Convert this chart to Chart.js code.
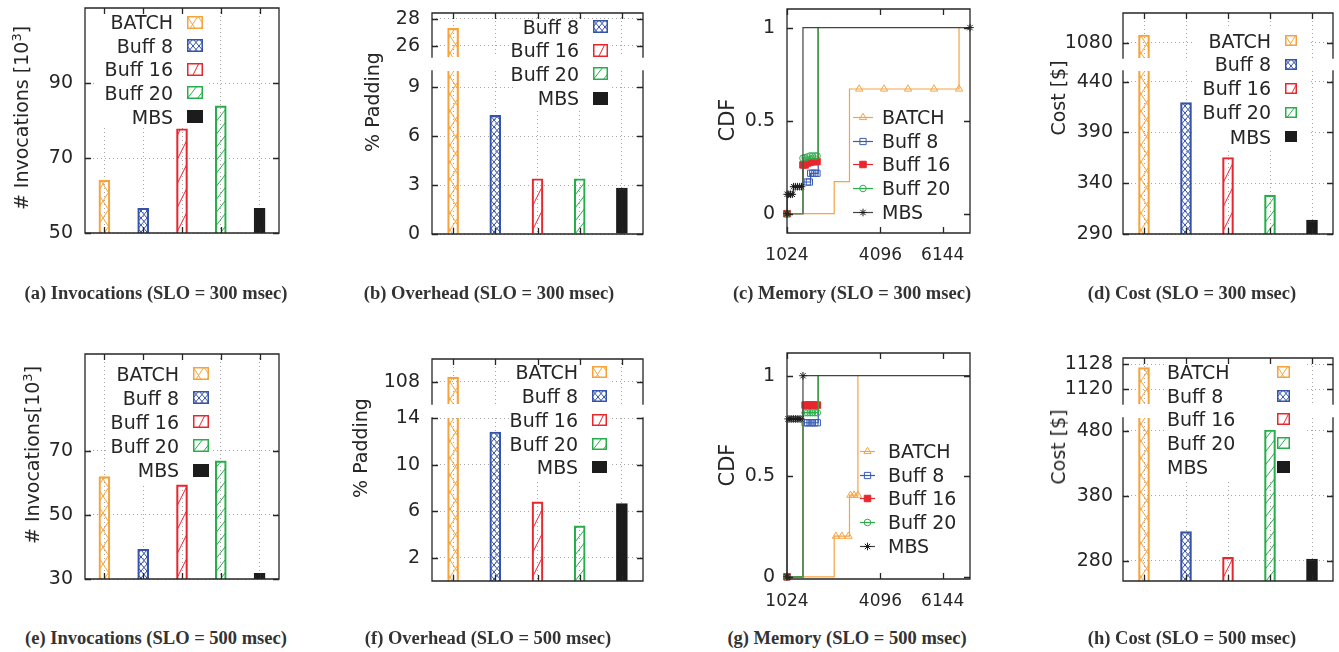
<!DOCTYPE html>
<html>
<head>
<meta charset="utf-8">
<script src="https://cdn.jsdelivr.net/npm/chart.js@4.4.1/dist/chart.umd.min.js"></script>
<style>
    body { margin: 0; background: #fff; }
    #fig { position: relative; width: 1339px; height: 652px; overflow: hidden; font-family: 'DejaVu Sans', sans-serif; color: #262626; }
    #fig canvas { position: absolute; }
    .key { position: absolute; white-space: nowrap; font-size: 19px; line-height: 22px; height: 22px; }
    .ytitle { position: absolute; white-space: nowrap; font-size: 19px; line-height: 22px; transform: translate(-50%, -50%) rotate(-90deg); }
    .ytitle.big { font-size: 21px; }
    .ytitle sup { font-size: 13px; vertical-align: 7px; line-height: 0; }
    .cap { position: absolute; white-space: nowrap; font-family: 'Liberation Serif', serif; font-weight: bold; font-size: 18.5px; color: #333; transform: translate(-50%, -50%); }
</style>
</head>
<body>
<div id="fig"></div>
<script>
var categories = ['BATCH', 'Buff 8', 'Buff 16', 'Buff 20', 'MBS'];

// bar heights
var invocations300 = [64.1, 56.6, 77.8, 83.9, 56.6];
var padding300 = [27.3, 7.28, 3.39, 3.39, 2.82];
var cost300 = [1087.6, 419.4, 365.3, 328.3, 303.8];
var invocations500 = [62.0, 39.3, 59.4, 66.9, 31.8];
var padding500 = [108.4, 12.8, 6.8, 4.74, 6.66];
var cost500 = [1126.9, 324.8, 285.2, 481.5, 282.6];

// tick labels
var invTicks300 = [50, 70, 90];
var padTicks300Top = [26, 28];
var padTicks300 = [0, 3, 6, 9];
var costTicks300Top = [1080];
var costTicks300 = [290, 340, 390, 440];
var invTicks500 = [30, 50, 70];
var padTicks500Top = [108];
var padTicks500 = [2, 6, 10, 14];
var costTicks500Top = [1120, 1128];
var costTicks500 = [280, 380, 480];
var memTicks = [1024, 4096, 6144];
var cdfTicks = [0, 0.5, 1];

// memory CDF (SLO = 300 msec)
var mem300BatchX = [1024, 2576, 3078, 3397, 4217, 5005, 5858, 6679, 6680];
var mem300BatchY = [0, 0.172, 0.67, 0.67, 0.67, 0.67, 0.67, 0.67, 1];
var mem300Buff8X = [1024, 1549, 1690, 1760, 1800, 1870, 1940, 2010, 2051];
var mem300Buff8Y = [0, 0.17, 0.17, 0.17, 0.217, 0.217, 0.217, 0.217, 1];
var mem300Buff16X = [1024, 1549, 1620, 1700, 1780, 1860, 1940, 2010, 2051];
var mem300Buff16Y = [0, 0.262, 0.262, 0.272, 0.276, 0.28, 0.28, 0.28, 1];
var mem300Buff20X = [1024, 1549, 1620, 1700, 1780, 1860, 1940, 2010, 2051];
var mem300Buff20Y = [0, 0.298, 0.3, 0.305, 0.31, 0.31, 0.31, 0.31, 1];
var mem300MbsX = [1024, 1030, 1080, 1140, 1200, 1240, 1300, 1370, 1440, 1500, 1549, 7040];
var mem300MbsY = [0, 0.104, 0.104, 0.104, 0.104, 0.145, 0.145, 0.145, 0.145, 0.145, 1, 1];

// memory CDF (SLO = 500 msec)
var mem500BatchX = [1024, 2576, 2632, 2829, 3046, 3078, 3110, 3230, 3354, 3355];
var mem500BatchY = [0, 0.202, 0.202, 0.202, 0.202, 0.406, 0.406, 0.406, 0.406, 1];
var mem500Buff8X = [1024, 1549, 1620, 1700, 1780, 1860, 1940, 2020, 2052];
var mem500Buff8Y = [0, 0.766, 0.766, 0.766, 0.766, 0.766, 0.766, 0.766, 1];
var mem500Buff16X = [1024, 1549, 1620, 1700, 1780, 1860, 1940, 2020, 2052];
var mem500Buff16Y = [0, 0.854, 0.854, 0.854, 0.854, 0.854, 0.854, 0.854, 1];
var mem500Buff20X = [1024, 1549, 1620, 1700, 1780, 1860, 1940, 2020, 2052];
var mem500Buff20Y = [0, 0.816, 0.816, 0.816, 0.816, 0.816, 0.816, 0.816, 1];
var mem500MbsX = [1024, 1025, 1060, 1120, 1180, 1240, 1300, 1360, 1420, 1480, 1549, 7040];
var mem500MbsY = [0, 0.785, 0.785, 0.785, 0.785, 0.785, 0.785, 0.785, 0.785, 0.785, 1, 1];

Chart.defaults.font.family = "'DejaVu Sans', sans-serif";
Chart.defaults.color = '#262626';

var fig = document.getElementById('fig');
var gridColor = '#a6a6a6';
var barColors = ['#f5a33a', '#3553a8', '#e8262e', '#27ae4a', '#1c1c1c'];
var hatchKinds = ['xbig', 'xfine', 'slash', 'slashDense', 'solid'];
var hatchSizes = { xbig: [11, 17], xfine: [6, 7], slash: [12, 24], slashDense: [10, 13] };
var lineColors = ['#f7a440', '#3a5bb5', '#e8262e', '#2aae4a', '#444444'];
var markColors = ['#f7a440', '#3a5bb5', '#e8262e', '#2aae4a', '#1c1c1c'];
var markStyles = ['triangle', 'rect', 'rect', 'circle', 'star'];
var markRadius = [4.2, 4.4, 4.6, 3.3, 3.8];

function hatch(color, kind) {
    if (kind === 'solid') { return color; }
    var w = hatchSizes[kind][0], h = hatchSizes[kind][1];
    var c = document.createElement('canvas');
    c.width = w; c.height = h;
    var g = c.getContext('2d');
    g.strokeStyle = color;
    g.lineWidth = 1;
    g.beginPath();
    var e = h / w;
    for (var k = -1; k <= 1; k++) {
        g.moveTo(-1, h + k * h + e); g.lineTo(w + 1, k * h - e);
        if (kind === 'xbig' || kind === 'xfine') {
            g.moveTo(-1, k * h - e); g.lineTo(w + 1, h + k * h + e);
        }
    }
    g.stroke();
    return g.createPattern(c, 'repeat');
}

function addCanvas(l, t, w, h) {
    var c = document.createElement('canvas');
    c.width = w; c.height = h;
    c.style.left = l + 'px';
    c.style.top = t + 'px';
    fig.appendChild(c);
    return c;
}

// white key box, drawn over the grid but under the bars
var keyBack = {
    id: 'keyBack',
    beforeDatasetsDraw: function (chart, args, opts) {
        if (!opts.box) { return; }
        var a = chart.chartArea, ctx = chart.ctx;
        ctx.save();
        ctx.beginPath();
        ctx.rect(a.left, a.top, a.right - a.left, a.bottom - a.top);
        ctx.clip();
        ctx.fillStyle = '#fff';
        ctx.fillRect(opts.box[0] - opts.at[0], opts.box[1] - opts.at[1],
            opts.box[2] - opts.box[0], opts.box[3] - opts.box[1]);
        ctx.restore();
    }
};

// gnuplot-like border with inward ticks
var frame = {
    id: 'frame',
    afterDraw: function (chart, args, opts) {
        var a = chart.chartArea, ctx = chart.ctx, s = opts.sides || 'tlrb';
        ctx.save();
        ctx.strokeStyle = '#262626';
        ctx.lineWidth = 1.3;
        ctx.lineCap = 'square';
        ctx.beginPath();
        if (s.indexOf('t') >= 0) { ctx.moveTo(a.left, a.top); ctx.lineTo(a.right, a.top); }
        if (s.indexOf('b') >= 0) { ctx.moveTo(a.left, a.bottom); ctx.lineTo(a.right, a.bottom); }
        if (s.indexOf('l') >= 0) { ctx.moveTo(a.left, a.top); ctx.lineTo(a.left, a.bottom); }
        if (s.indexOf('r') >= 0) { ctx.moveTo(a.right, a.top); ctx.lineTo(a.right, a.bottom); }
        ctx.stroke();
        ctx.lineCap = 'butt';
        ctx.beginPath();
        var y = chart.scales.y;
        y.ticks.forEach(function (t) {
            var py = Math.round(y.getPixelForValue(t.value)) + 0.5;
            ctx.moveTo(a.left, py); ctx.lineTo(a.left + 6, py);
            ctx.moveTo(a.right, py); ctx.lineTo(a.right - 6, py);
        });
        var x = chart.scales.x;
        x.ticks.forEach(function (t, i) {
            var px = Math.round(x.getPixelForTick(i)) + 0.5;
            if (s.indexOf('t') >= 0) { ctx.moveTo(px, a.top); ctx.lineTo(px, a.top + 6); }
            if (s.indexOf('b') >= 0) { ctx.moveTo(px, a.bottom); ctx.lineTo(px, a.bottom - 6); }
        });
        ctx.stroke();
        ctx.restore();
    }
};

function barPanel(p) {
    // padding must stay larger than half a tick label plus its padding
    var padT = 28, padB = 28, yW = 70, padR = 14;
    var l = p.box[0], t = p.box[1], r = p.box[2], b = p.box[3];
    var at = [l - yW, t - padT];
    var cv = addCanvas(at[0], at[1], r - l + yW + padR, b - t + padT + padB);
    return new Chart(cv, {
        type: 'bar',
        data: {
            labels: categories,
            datasets: [{
                data: p.values,
                backgroundColor: categories.map(function (c, i) { return hatch(barColors[i], hatchKinds[i]); }),
                borderColor: barColors,
                borderWidth: 1.5,
                barThickness: 11,
                clip: 0
            }]
        },
        options: {
            responsive: false,
            animation: false,
            devicePixelRatio: 1,
            layout: { padding: { top: padT, right: padR, left: 0, bottom: 0 } },
            plugins: {
                legend: { display: false },
                tooltip: { enabled: false },
                frame: { sides: p.sides },
                keyBack: { box: p.key, at: at }
            },
            scales: {
                x: {
                    grid: { offset: false, color: gridColor, drawTicks: false },
                    border: { display: false, dash: [1, 3] },
                    ticks: { display: false },
                    afterFit: function (s) { s.height = padB; }
                },
                y: {
                    min: p.min,
                    max: p.max,
                    bounds: 'data',
                    grid: { color: gridColor, drawTicks: false },
                    border: { display: false, dash: [1, 3] },
                    ticks: {
                        padding: p.tickPad || 12,
                        autoSkip: false,
                        font: { size: 19 },
                        callback: function (v) { return String(v); }
                    },
                    afterBuildTicks: function (s) { s.ticks = p.ticks.map(function (v) { return { value: v }; }); },
                    afterFit: function (s) { s.width = yW; }
                }
            }
        },
        plugins: [keyBack, frame]
    });
}

function cdfPanel(p) {
    var padT = 28, padB = 36, yW = 70, padR = 14;
    var l = p.box[0], t = p.box[1], r = p.box[2], b = p.box[3];
    var cv = addCanvas(l - yW, t - padT, r - l + yW + padR, b - t + padT + padB);
    return new Chart(cv, {
        type: 'line',
        data: {
            datasets: p.xs.map(function (xs, i) {
                var hide = p.hidden[i];
                return {
                    data: xs.map(function (x, j) { return { x: x, y: p.ys[i][j] }; }),
                    stepped: true,
                    borderColor: lineColors[i],
                    borderWidth: 1.2,
                    pointStyle: markStyles[i],
                    pointRadius: function (c) { return hide.indexOf(c.dataIndex) >= 0 ? 0 : markRadius[i]; },
                    pointBorderColor: markColors[i],
                    pointBackgroundColor: i === 2 ? markColors[i] : 'rgba(255,255,255,0)',
                    pointBorderWidth: 1,
                    order: 5 - i,
                    clip: false
                };
            })
        },
        options: {
            responsive: false,
            animation: false,
            devicePixelRatio: 1,
            layout: { padding: { top: padT, right: padR, left: 0, bottom: 0 } },
            plugins: {
                legend: { display: false },
                tooltip: { enabled: false },
                frame: { sides: 'tlrb' }
            },
            scales: {
                x: {
                    type: 'linear',
                    min: 1024,
                    max: 7040,
                    bounds: 'data',
                    grid: { display: false, drawTicks: false },
                    border: { display: false },
                    ticks: {
                        padding: 12,
                        autoSkip: false,
                        maxRotation: 0,
                        font: { size: 17 },
                        callback: function (v) { return String(v); }
                    },
                    afterBuildTicks: function (s) { s.ticks = memTicks.map(function (v) { return { value: v }; }); },
                    afterFit: function (s) { s.height = padB; }
                },
                y: {
                    min: p.min,
                    max: p.max,
                    bounds: 'data',
                    grid: { display: false, drawTicks: false },
                    border: { display: false },
                    ticks: {
                        padding: 12,
                        autoSkip: false,
                        font: { size: 19 },
                        callback: function (v) { return String(v); }
                    },
                    afterBuildTicks: function (s) { s.ticks = cdfTicks.map(function (v) { return { value: v }; }); },
                    afterFit: function (s) { s.width = yW; }
                }
            }
        },
        plugins: [frame]
    });
}

function keyText(text, x, y, alignRight) {
    var d = document.createElement('div');
    d.className = 'key';
    d.textContent = text;
    if (alignRight) {
        d.style.left = (x - 200) + 'px';
        d.style.width = '200px';
        d.style.textAlign = 'right';
    } else {
        d.style.left = x + 'px';
    }
    d.style.top = (y - 11) + 'px';
    fig.appendChild(d);
}

function barKey(k) {
    k.items.forEach(function (i, n) {
        var y = k.rows[n];
        if (k.textRight) { keyText(categories[i], k.textRight, y, true); }
        else { keyText(categories[i], k.textLeft, y, false); }
        var c = addCanvas(k.swatchX, Math.round(y - k.swH / 2), k.swW, k.swH);
        var g = c.getContext('2d');
        g.fillStyle = hatch(barColors[i], hatchKinds[i]);
        g.fillRect(0, 0, k.swW, k.swH);
        g.strokeStyle = barColors[i];
        g.lineWidth = 1.5;
        g.strokeRect(0.75, 0.75, k.swW - 1.5, k.swH - 1.5);
    });
}

function drawMark(g, style, x, y, r, color, filled) {
    g.strokeStyle = color;
    g.fillStyle = color;
    g.lineWidth = 1;
    g.beginPath();
    if (style === 'triangle') {
        for (var a = 0; a < 3; a++) {
            var ang = -Math.PI / 2 + a * 2 * Math.PI / 3;
            if (a === 0) { g.moveTo(x + r * Math.cos(ang), y + r * Math.sin(ang)); }
            else { g.lineTo(x + r * Math.cos(ang), y + r * Math.sin(ang)); }
        }
        g.closePath();
    } else if (style === 'rect') {
        var h = r * Math.SQRT1_2;
        g.rect(x - h, y - h, 2 * h, 2 * h);
    } else if (style === 'circle') {
        g.arc(x, y, r, 0, 2 * Math.PI);
    } else {
        for (var q = 0; q < 4; q++) {
            var an = q * Math.PI / 4;
            g.moveTo(x - r * Math.cos(an), y - r * Math.sin(an));
            g.lineTo(x + r * Math.cos(an), y + r * Math.sin(an));
        }
    }
    if (filled) { g.fill(); }
    g.stroke();
}

function lineKey(k) {
    categories.forEach(function (name, i) {
        var y = k.rows[i];
        keyText(name, k.textLeft, y, false);
        var w = k.lineX[1] - k.lineX[0] + 10;
        var c = addCanvas(k.lineX[0] - 5, Math.round(y) - 8, w, 16);
        var g = c.getContext('2d');
        g.strokeStyle = lineColors[i];
        g.lineWidth = 1.2;
        g.beginPath();
        g.moveTo(5, 8.5); g.lineTo(w - 5, 8.5);
        g.stroke();
        drawMark(g, markStyles[i], w / 2, 8.5, markRadius[i], markColors[i], i === 2);
    });
}

function yTitle(html, x, y, cls) {
    var d = document.createElement('div');
    d.className = 'ytitle' + (cls ? ' ' + cls : '');
    d.innerHTML = html;
    d.style.left = x + 'px';
    d.style.top = y + 'px';
    fig.appendChild(d);
}

function caption(text, x, y) {
    var d = document.createElement('div');
    d.className = 'cap';
    d.textContent = text;
    d.style.left = x + 'px';
    d.style.top = y + 'px';
    fig.appendChild(d);
}

// (a) invocations, 300 msec
barPanel({ box: [85, 8, 279, 233], values: invocations300, min: 50, max: 110, ticks: invTicks300, sides: 'tlrb', key: [97, 11, 209, 128] });
barKey({ items: [0, 1, 2, 3, 4], textRight: 173, swatchX: 187, swW: 16, swH: 13, rows: [22, 45.5, 69, 92.7, 116.5] });

// (b) padding, 300 msec (broken axis)
barPanel({ box: [432, 13, 643, 57], values: padding300, min: 25.15, max: 28.45, ticks: padTicks300Top, sides: 'tlr', key: [513, 21, 612, 111] });
barPanel({ box: [432, 71, 643, 234], values: padding300, min: 0, max: 10, ticks: padTicks300, sides: 'lrb', key: [513, 21, 612, 111] });
barKey({ items: [1, 2, 3, 4], textRight: 579, swatchX: 593, swW: 15, swH: 13, rows: [26.5, 50, 73.5, 98] });

// (c) memory CDF, 300 msec
cdfPanel({
    box: [787, 9, 970, 233], min: -0.104, max: 1.1,
    xs: [mem300BatchX, mem300Buff8X, mem300Buff16X, mem300Buff20X, mem300MbsX],
    ys: [mem300BatchY, mem300Buff8Y, mem300Buff16Y, mem300Buff20Y, mem300MbsY],
    hidden: [[1, 2, 8], [1, 8], [8], [8], [10]]
});
lineKey({ textLeft: 882, lineX: [853, 873], rows: [116.7, 140.7, 164.3, 188.3, 212.3] });

// (d) cost, 300 msec (broken axis)
barPanel({ box: [1123, 13, 1333, 58], values: cost300, min: 1065, max: 1109.2, ticks: costTicks300Top, sides: 'tlr', key: [1195, 27, 1310, 150], tickPad: 10 });
barPanel({ box: [1123, 71, 1333, 234], values: cost300, min: 290, max: 450.5, ticks: costTicks300, sides: 'lrb', key: [1195, 27, 1310, 150], tickPad: 10 });
barKey({ items: [0, 1, 2, 3, 4], textRight: 1271, swatchX: 1285, swW: 12, swH: 11, rows: [40.5, 64, 88, 112, 136.5] });

// (e) invocations, 500 msec
barPanel({ box: [85, 354, 279, 579], values: invocations500, min: 30, max: 100.3, ticks: invTicks500, sides: 'tlrb', key: [108, 360, 213, 483] });
barKey({ items: [0, 1, 2, 3, 4], textRight: 179, swatchX: 193, swW: 16, swH: 13, rows: [373.5, 397.5, 421.5, 445.5, 470] });

// (f) padding, 500 msec (broken axis)
barPanel({ box: [432, 359, 643, 404], values: padding500, min: 106.09, max: 109.95, ticks: padTicks500Top, sides: 'tlr', key: [511, 360, 611, 479] });
barPanel({ box: [432, 418, 643, 581], values: padding500, min: 0, max: 14, ticks: padTicks500, sides: 'lrb', key: [511, 360, 611, 479] });
barKey({ items: [0, 1, 2, 3, 4], textRight: 578, swatchX: 592, swW: 15, swH: 12, rows: [372, 396, 420, 443.5, 467] });

// (g) memory CDF, 500 msec
cdfPanel({
    box: [787, 353, 970, 579], min: -0.011, max: 1.113,
    xs: [mem500BatchX, mem500Buff8X, mem500Buff16X, mem500Buff20X, mem500MbsX],
    ys: [mem500BatchY, mem500Buff8Y, mem500Buff16Y, mem500Buff20Y, mem500MbsY],
    hidden: [[1, 5, 9], [1, 8], [1, 8], [1, 8], [1, 11]]
});
lineKey({ textLeft: 888, lineX: [860, 875], rows: [451, 475, 498.3, 521.7, 546] });

// (h) cost, 500 msec (broken axis)
barPanel({ box: [1123, 358, 1333, 404], values: cost500, min: 1115.3, max: 1130, ticks: costTicks500Top, sides: 'tlr', key: [1165, 358, 1305, 479], tickPad: 10 });
barPanel({ box: [1123, 418, 1333, 581], values: cost500, min: 248.7, max: 500, ticks: costTicks500, sides: 'lrb', key: [1165, 358, 1305, 479], tickPad: 10 });
barKey({ items: [0, 1, 2, 3, 4], textLeft: 1167, swatchX: 1277, swW: 13, swH: 12, rows: [371.5, 395.5, 419, 443, 466.5] });

yTitle('# Invocations [10<sup>3</sup>]', 21, 118);
yTitle('% Padding', 372, 102);
yTitle('CDF', 727, 120, 'big');
yTitle('Cost [$]', 1058, 98);
yTitle('# Invocations[10<sup>3</sup>]', 32, 455);
yTitle('% Padding', 360, 448);
yTitle('CDF', 727, 465, 'big');
yTitle('Cost [$]', 1058, 447);

caption('(a) Invocations (SLO = 300 msec)', 156, 293);
caption('(b) Overhead (SLO = 300 msec)', 489, 293);
caption('(c) Memory (SLO = 300 msec)', 852, 293);
caption('(d) Cost (SLO = 300 msec)', 1192, 293);
caption('(e) Invocations (SLO = 500 msec)', 156, 638);
caption('(f) Overhead (SLO = 500 msec)', 488, 638);
caption('(g) Memory (SLO = 500 msec)', 847, 638);
caption('(h) Cost (SLO = 500 msec)', 1192, 638);
</script>
</body>
</html>
